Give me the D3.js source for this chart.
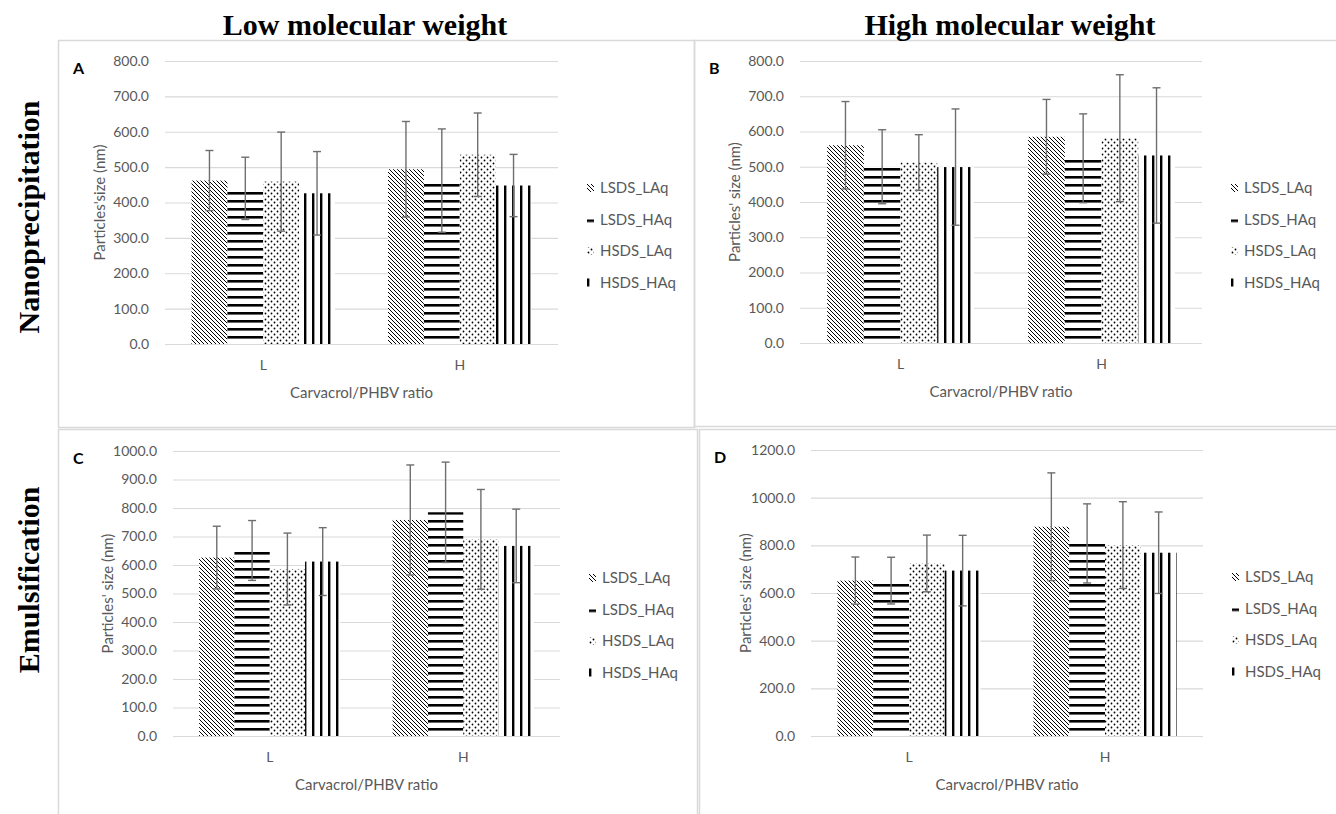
<!DOCTYPE html>
<html>
<head>
<meta charset="utf-8">
<script src="https://cdn.jsdelivr.net/npm/d3@7"></script>
<style>
  body { margin: 0; background: #fff; }
  svg { display: block; }
</style>
</head>
<body>
<div id="chart"></div>
<script>
const groups = ["L", "H"];
const series = ["LSDS_LAq", "LSDS_HAq", "HSDS_LAq", "HSDS_HAq"];

// mean particle size (nm): one row per Carvacrol/PHBV group, columns follow `series`
const sizeA = [[462, 440, 459, 426], [494, 462, 535, 448]];
const errA  = [[85, 88, 140, 118], [135, 146, 118, 88]];
const sizeB = [[561, 500, 512, 499], [585, 524, 581, 532]];
const errB  = [[124, 105, 79, 165], [106, 126, 180, 192]];
const sizeC = [[626, 651, 586, 612], [758, 785, 690, 667]];
const errC  = [[110, 105, 126, 119], [193, 176, 175, 129]];
const sizeD = [[652, 652, 724, 694], [878, 808, 801, 769]];
const errD  = [[99, 98, 119, 148], [226, 166, 182, 171]];

const ticks800  = [0, 100, 200, 300, 400, 500, 600, 700, 800];
const ticks1000 = [0, 100, 200, 300, 400, 500, 600, 700, 800, 900, 1000];
const ticks1200 = [0, 200, 400, 600, 800, 1000, 1200];

const colTitles = ["Low molecular weight", "High molecular weight"];
const rowTitles = ["Nanoprecipitation", "Emulsification"];

const W = 1336, H = 814;
const grey = "#595959";
const font = "Lato, 'Open Sans', sans-serif";

const svg = d3.select("#chart").append("svg")
    .attr("width", W)
    .attr("height", H)
    .style("background", "#fff");

// fill patterns, roughly what excel does for b/w pattern fills
const defs = svg.append("defs");
const pDiag = defs.append("pattern").attr("id", "pat0")
    .attr("patternUnits", "userSpaceOnUse").attr("width", 4).attr("height", 4);
pDiag.append("rect").attr("width", 4).attr("height", 4).attr("fill", "#fff");
pDiag.append("path").attr("d", "M-1,-1L5,5M-1,3L1,5M3,-1L5,1")
    .attr("stroke", "#000").attr("stroke-width", 1.0);

const pHor = defs.append("pattern").attr("id", "pat1")
    .attr("patternUnits", "userSpaceOnUse").attr("width", 8).attr("height", 8);
pHor.append("rect").attr("width", 8).attr("height", 8).attr("fill", "#fff");
pHor.append("rect").attr("y", 0).attr("width", 8).attr("height", 2.6).attr("fill", "#000");

const pDot = defs.append("pattern").attr("id", "pat2")
    .attr("patternUnits", "userSpaceOnUse").attr("width", 6).attr("height", 6);
pDot.append("rect").attr("width", 6).attr("height", 6).attr("fill", "#fff");
pDot.append("circle").attr("cx", 1.5).attr("cy", 1.5).attr("r", 0.9).attr("fill", "#000");
pDot.append("circle").attr("cx", 4.5).attr("cy", 4.5).attr("r", 0.9).attr("fill", "#000");

const pVer = defs.append("pattern").attr("id", "pat3")
    .attr("patternUnits", "userSpaceOnUse").attr("width", 8).attr("height", 8);
pVer.append("rect").attr("width", 8).attr("height", 8).attr("fill", "#fff");
pVer.append("rect").attr("x", 0).attr("width", 2.4).attr("height", 8).attr("fill", "#000");

const panels = [
  { label: "A", mean: sizeA, err: errA, ticks: ticks800,  ylab: "Particles'size (nm)",
    box: [58, 40, 694, 427], left: 165, right: 558, top: 61, bottom: 344 },
  { label: "B", mean: sizeB, err: errB, ticks: ticks800,  ylab: "Particles' size (nm)",
    box: [694, 40, 1340, 426], left: 800, right: 1202, top: 61, bottom: 343 },
  { label: "C", mean: sizeC, err: errC, ticks: ticks1000, ylab: "Particles' size (nm)",
    box: [58, 429, 697, 820], left: 173, right: 560, top: 451, bottom: 736 },
  { label: "D", mean: sizeD, err: errD, ticks: ticks1200, ylab: "Particles' size (nm)",
    box: [699, 429, 1340, 820], left: 811, right: 1203, top: 450, bottom: 736 }
];

panels.forEach(p => {
  const g = svg.append("g");

  g.append("rect")
      .attr("x", p.box[0] + 0.5).attr("y", p.box[1] + 0.5)
      .attr("width", p.box[2] - p.box[0]).attr("height", p.box[3] - p.box[1])
      .attr("fill", "none").attr("stroke", "#d9d9d9").attr("stroke-width", 1.5);

  const y = d3.scaleLinear()
      .domain([0, d3.max(p.ticks)])
      .range([p.bottom, p.top]);

  const x = d3.scaleBand()
      .domain(groups)
      .range([p.left, p.right])
      .paddingInner(0.27)
      .paddingOuter(0.135);

  const xs = d3.scaleBand()
      .domain(series)
      .range([0, x.bandwidth()]);

  // gridlines + tick labels
  const yAxis = d3.axisLeft(y)
      .tickValues(p.ticks)
      .tickFormat(d3.format(".1f"))
      .tickSize(-(p.right - p.left))
      .tickPadding(16);

  g.append("g")
      .attr("transform", `translate(${p.left},0)`)
      .call(yAxis)
      .call(a => a.select(".domain").remove())
      .call(a => a.selectAll("line").attr("stroke", "#d9d9d9").attr("stroke-width", 1.2))
      .call(a => a.selectAll("text")
          .attr("fill", grey).style("font-family", font).style("font-size", "14px"));

  const xAxis = d3.axisBottom(x).tickSize(0).tickPadding(16);
  g.append("g")
      .attr("transform", `translate(0,${p.bottom})`)
      .call(xAxis)
      .call(a => a.select(".domain").remove())
      .call(a => a.selectAll("text")
          .attr("fill", grey).style("font-family", font).style("font-size", "14px"));

  // bars
  const rows = [];
  groups.forEach((grp, gi) => {
    series.forEach((s, si) => {
      rows.push({ grp, s, si, v: p.mean[gi][si], e: p.err[gi][si] });
    });
  });

  g.append("g").selectAll("rect")
    .data(rows)
    .join("rect")
      .attr("x", d => x(d.grp) + xs(d.s))
      .attr("y", d => y(d.v))
      .attr("width", xs.bandwidth())
      .attr("height", d => y(0) - y(d.v))
      .attr("fill", d => `url(#pat${d.si})`);

  // error bars
  const eb = g.append("g")
      .attr("stroke", "#6e6e6e")
      .attr("stroke-width", 1.4)
      .selectAll("g")
      .data(rows)
      .join("g")
      .attr("transform", d => `translate(${x(d.grp) + xs(d.s) + xs.bandwidth() / 2},0)`);
  eb.append("line")
      .attr("y1", d => y(d.v + d.e)).attr("y2", d => y(d.v - d.e));
  eb.append("line")
      .attr("x1", -4).attr("x2", 4)
      .attr("y1", d => y(d.v + d.e)).attr("y2", d => y(d.v + d.e));
  eb.append("line")
      .attr("x1", -4).attr("x2", 4)
      .attr("y1", d => y(d.v - d.e)).attr("y2", d => y(d.v - d.e));

  // axis titles
  g.append("text")
      .attr("transform", `translate(${p.left - 65},${(p.top + p.bottom) / 2}) rotate(-90)`)
      .attr("text-anchor", "middle")
      .attr("dy", "0.35em")
      .attr("fill", grey)
      .style("font-family", font).style("font-size", "15px")
      .text(p.ylab);

  g.append("text")
      .attr("x", (p.left + p.right) / 2)
      .attr("y", p.bottom + 54)
      .attr("text-anchor", "middle")
      .attr("fill", grey)
      .style("font-family", font).style("font-size", "15px")
      .text("Carvacrol/PHBV ratio");

  // panel letter
  g.append("text")
      .attr("x", p.box[0] + 15)
      .attr("y", p.top + 13)
      .attr("fill", "#000")
      .style("font-family", font).style("font-size", "16px").style("font-weight", "bold")
      .text(p.label);

  // legend
  const lg = g.append("g")
      .attr("transform", `translate(${p.right + 29},${p.top + 127})`)
      .selectAll("g")
      .data(series)
      .join("g")
      .attr("transform", (d, i) => `translate(0,${i * 31.5})`);
  lg.append("rect")
      .attr("x", 0).attr("y", -4)
      .attr("width", 7).attr("height", 8)
      .attr("fill", (d, i) => `url(#pat${i})`);
  lg.append("text")
      .attr("x", 13)
      .attr("dy", "0.35em")
      .attr("fill", grey)
      .style("font-family", font).style("font-size", "15px")
      .text(d => d);
});

// column headers
svg.selectAll("text.col")
  .data(colTitles)
  .join("text")
    .attr("class", "col")
    .attr("x", (d, i) => i === 0 ? 365 : 1010)
    .attr("y", 35)
    .attr("text-anchor", "middle")
    .style("font-family", "'Liberation Serif', 'Times New Roman', serif")
    .style("font-size", "30px")
    .style("font-weight", "bold")
    .text(d => d);

// row headers
svg.selectAll("text.row")
  .data(rowTitles)
  .join("text")
    .attr("class", "row")
    .attr("transform", (d, i) => `translate(39,${i === 0 ? 217 : 580}) rotate(-90)`)
    .attr("text-anchor", "middle")
    .style("font-family", "'Liberation Serif', 'Times New Roman', serif")
    .style("font-size", "30px")
    .style("font-weight", "bold")
    .text(d => d);
</script>
</body>
</html>
